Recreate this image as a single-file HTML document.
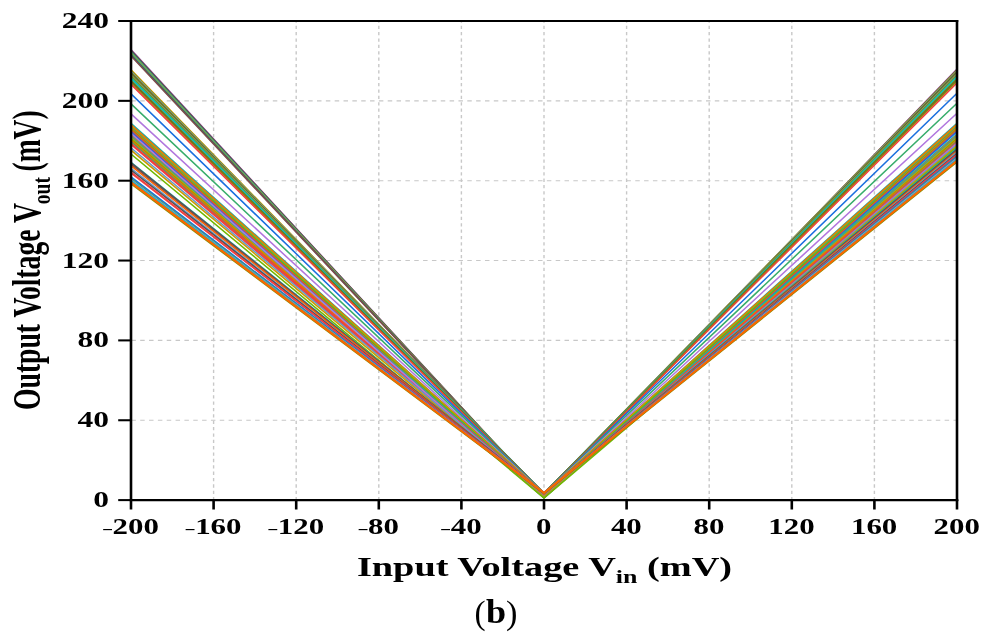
<!DOCTYPE html>
<html>
<head>
<meta charset="utf-8">
<title>Output Voltage vs Input Voltage (b)</title>
<style>
html,body{margin:0;padding:0;background:#ffffff;}
body{width:987px;height:639px;overflow:hidden;font-family:"Liberation Serif",serif;}
svg{display:block;position:absolute;left:0;top:0;}
.grid line{stroke:#c8c8c8;fill:none;}
.gv{stroke-width:1.4;stroke-dasharray:3.3 3.07;stroke-dashoffset:1.67;}
.gh{stroke-width:1.1;stroke-dasharray:4.5 4.34;stroke-dashoffset:-0.36;}
.curves polyline{fill:none;stroke-width:1.55;stroke-linejoin:miter;stroke-linecap:butt;}
.ticks line{stroke:#000;}
.tv{stroke-width:2.6;}
.th{stroke-width:2.05;}
text{font-family:"Liberation Serif",serif;fill:#000;}
.tk{font-weight:bold;font-size:22.4px;}
.hy{font-weight:normal;font-size:22.4px;}
.xt{font-weight:bold;font-size:26.6px;}
.yt{font-weight:bold;font-size:39.5px;}
.cap{font-size:34.4px;}
</style>
</head>
<body>
<div id="fig" style="position:absolute;left:0;top:0;width:987px;height:639px;will-change:transform;">
<svg width="987" height="639" viewBox="0 0 987 639">
<rect x="0" y="0" width="987" height="639" fill="#ffffff"/>
<g class="grid">
<line class="gv" x1="213.60" y1="21.00" x2="213.60" y2="500.10"/>
<line class="gv" x1="296.20" y1="21.00" x2="296.20" y2="500.10"/>
<line class="gv" x1="378.80" y1="21.00" x2="378.80" y2="500.10"/>
<line class="gv" x1="461.40" y1="21.00" x2="461.40" y2="500.10"/>
<line class="gv" x1="544.00" y1="21.00" x2="544.00" y2="500.10"/>
<line class="gv" x1="626.60" y1="21.00" x2="626.60" y2="500.10"/>
<line class="gv" x1="709.20" y1="21.00" x2="709.20" y2="500.10"/>
<line class="gv" x1="791.80" y1="21.00" x2="791.80" y2="500.10"/>
<line class="gv" x1="874.40" y1="21.00" x2="874.40" y2="500.10"/>
<line class="gh" x1="131.00" y1="420.25" x2="957.00" y2="420.25"/>
<line class="gh" x1="131.00" y1="340.40" x2="957.00" y2="340.40"/>
<line class="gh" x1="131.00" y1="260.55" x2="957.00" y2="260.55"/>
<line class="gh" x1="131.00" y1="180.70" x2="957.00" y2="180.70"/>
<line class="gh" x1="131.00" y1="100.85" x2="957.00" y2="100.85"/>
</g>
<clipPath id="pc"><rect x="131.00" y="21.00" width="826.00" height="479.10"/></clipPath>
<g class="curves" clip-path="url(#pc)">
<polyline points="131.00,69.84 544.00,494.11 957.00,70.04" stroke="#CC9900"/>
<polyline points="131.00,76.34 544.00,493.62 957.00,75.64" stroke="#CC9900"/>
<polyline points="131.00,49.64 544.00,496.92 957.00,68.94" stroke="#B177DE"/>
<polyline points="131.00,50.04 544.00,496.42 957.00,69.54" stroke="#7D4E4E"/>
<polyline points="131.00,50.84 544.00,496.73 957.00,70.44" stroke="#515151"/>
<polyline points="131.00,51.94 544.00,497.03 957.00,71.44" stroke="#1CB1A5"/>
<polyline points="131.00,53.04 544.00,496.54 957.00,72.44" stroke="#CC9900"/>
<polyline points="131.00,54.14 544.00,496.85 957.00,73.44" stroke="#1CB1A5"/>
<polyline points="131.00,55.04 544.00,496.35 957.00,74.04" stroke="#515151"/>
<polyline points="131.00,55.94 544.00,496.66 957.00,74.84" stroke="#7D4E4E"/>
<polyline points="131.00,70.74 544.00,493.97 957.00,70.24" stroke="#8E8E00"/>
<polyline points="131.00,71.64 544.00,493.47 957.00,71.04" stroke="#6699CC"/>
<polyline points="131.00,72.54 544.00,493.78 957.00,71.84" stroke="#8E8E00"/>
<polyline points="131.00,73.44 544.00,494.08 957.00,72.64" stroke="#515151"/>
<polyline points="131.00,74.34 544.00,493.59 957.00,73.44" stroke="#8E8E00"/>
<polyline points="131.00,75.24 544.00,493.90 957.00,74.24" stroke="#6699CC"/>
<polyline points="131.00,76.04 544.00,493.40 957.00,75.04" stroke="#8E8E00"/>
<polyline points="131.00,77.44 544.00,493.71 957.00,76.24" stroke="#1CB1A5"/>
<polyline points="131.00,78.44 544.00,494.01 957.00,77.04" stroke="#1CB1A5"/>
<polyline points="131.00,79.34 544.00,493.52 957.00,77.84" stroke="#00CBCC"/>
<polyline points="131.00,80.54 544.00,493.82 957.00,78.84" stroke="#8E8E00"/>
<polyline points="131.00,81.54 544.00,493.33 957.00,80.04" stroke="#515151"/>
<polyline points="131.00,82.44 544.00,493.63 957.00,81.04" stroke="#8E8E00"/>
<polyline points="131.00,84.34 544.00,493.94 957.00,82.94" stroke="#F14040"/>
<polyline points="131.00,93.84 544.00,493.51 957.00,93.24" stroke="#1A6FDF"/>
<polyline points="131.00,103.84 544.00,493.51 957.00,103.24" stroke="#37AD6B"/>
<polyline points="131.00,113.84 544.00,493.51 957.00,113.24" stroke="#B177DE"/>
<polyline points="131.00,123.44 544.00,493.51 957.00,123.24" stroke="#1CB1A5"/>
<polyline points="131.00,124.84 544.00,493.51 957.00,124.44" stroke="#FB6501"/>
<polyline points="131.00,126.04 544.00,493.51 957.00,125.64" stroke="#CC9900"/>
<polyline points="131.00,127.24 544.00,495.51 957.00,126.84" stroke="#37AD6B"/>
<polyline points="131.00,128.34 544.00,497.34 957.00,128.04" stroke="#FB6501"/>
<polyline points="131.00,129.34 544.00,494.38 957.00,129.24" stroke="#6FB802"/>
<polyline points="131.00,130.44 544.00,496.21 957.00,130.44" stroke="#F14040"/>
<polyline points="131.00,131.94 544.00,498.04 957.00,131.64" stroke="#1A6FDF"/>
<polyline points="131.00,134.44 544.00,495.08 957.00,134.04" stroke="#1CB1A5"/>
<polyline points="131.00,135.54 544.00,496.91 957.00,135.24" stroke="#FB6501"/>
<polyline points="131.00,136.64 544.00,493.95 957.00,136.44" stroke="#1CB1A5"/>
<polyline points="131.00,137.94 544.00,495.78 957.00,137.64" stroke="#CC9900"/>
<polyline points="131.00,139.14 544.00,497.61 957.00,138.84" stroke="#6FB802"/>
<polyline points="131.00,140.44 544.00,494.65 957.00,140.04" stroke="#FB6501"/>
<polyline points="131.00,141.84 544.00,496.48 957.00,141.24" stroke="#37AD6B"/>
<polyline points="131.00,143.44 544.00,493.52 957.00,142.44" stroke="#F14040"/>
<polyline points="131.00,144.54 544.00,495.35 957.00,143.44" stroke="#F14040"/>
<polyline points="131.00,133.34 544.00,497.18 957.00,143.44" stroke="#B177DE"/>
<polyline points="131.00,147.84 544.00,494.22 957.00,144.64" stroke="#6699CC"/>
<polyline points="131.00,150.14 544.00,496.05 957.00,145.84" stroke="#CC9900"/>
<polyline points="131.00,154.04 544.00,497.88 957.00,147.04" stroke="#6FB802"/>
<polyline points="131.00,162.34 544.00,493.58 957.00,148.24" stroke="#1CB1A5"/>
<polyline points="131.00,162.94 544.00,494.34 957.00,149.24" stroke="#515151"/>
<polyline points="131.00,164.24 544.00,493.11 957.00,150.24" stroke="#7D4E4E"/>
<polyline points="131.00,165.84 544.00,493.87 957.00,151.24" stroke="#FB6501"/>
<polyline points="131.00,168.24 544.00,494.63 957.00,152.44" stroke="#6699CC"/>
<polyline points="131.00,170.14 544.00,493.40 957.00,153.64" stroke="#515151"/>
<polyline points="131.00,172.04 544.00,494.16 957.00,154.64" stroke="#F14040"/>
<polyline points="131.00,173.04 544.00,492.93 957.00,155.44" stroke="#F14040"/>
<polyline points="131.00,176.94 544.00,493.03 957.00,156.44" stroke="#1A6FDF"/>
<polyline points="131.00,178.54 544.00,493.33 957.00,157.44" stroke="#37AD6B"/>
<polyline points="131.00,179.94 544.00,492.84 957.00,158.44" stroke="#B177DE"/>
<polyline points="131.00,180.54 544.00,493.14 957.00,159.24" stroke="#00CBCC"/>
<polyline points="131.00,183.84 544.00,493.45 957.00,162.04" stroke="#8E8E00"/>
<polyline points="131.00,181.94 544.00,492.61 957.00,160.24" stroke="#FB6501"/>
<polyline points="131.00,182.74 544.00,493.11 957.00,161.04" stroke="#FB6501"/>
</g>
<g class="ticks">
<line class="tv" x1="131.00" y1="500.10" x2="131.00" y2="509.50"/>
<line class="tv" x1="213.60" y1="500.10" x2="213.60" y2="509.50"/>
<line class="tv" x1="296.20" y1="500.10" x2="296.20" y2="509.50"/>
<line class="tv" x1="378.80" y1="500.10" x2="378.80" y2="509.50"/>
<line class="tv" x1="461.40" y1="500.10" x2="461.40" y2="509.50"/>
<line class="tv" x1="544.00" y1="500.10" x2="544.00" y2="509.50"/>
<line class="tv" x1="626.60" y1="500.10" x2="626.60" y2="509.50"/>
<line class="tv" x1="709.20" y1="500.10" x2="709.20" y2="509.50"/>
<line class="tv" x1="791.80" y1="500.10" x2="791.80" y2="509.50"/>
<line class="tv" x1="874.40" y1="500.10" x2="874.40" y2="509.50"/>
<line class="tv" x1="957.00" y1="500.10" x2="957.00" y2="509.50"/>
<line class="th" x1="118.20" y1="500.10" x2="131.00" y2="500.10"/>
<line class="th" x1="118.20" y1="420.25" x2="131.00" y2="420.25"/>
<line class="th" x1="118.20" y1="340.40" x2="131.00" y2="340.40"/>
<line class="th" x1="118.20" y1="260.55" x2="131.00" y2="260.55"/>
<line class="th" x1="118.20" y1="180.70" x2="131.00" y2="180.70"/>
<line class="th" x1="118.20" y1="100.85" x2="131.00" y2="100.85"/>
<line class="th" x1="118.20" y1="21.00" x2="131.00" y2="21.00"/>
<line class="th" x1="129.70" y1="21.00" x2="958.30" y2="21.00"/>
<line class="th" x1="129.70" y1="500.10" x2="958.30" y2="500.10"/>
<line class="tv" x1="131.00" y1="20.00" x2="131.00" y2="501.10"/>
<line class="tv" x1="957.00" y1="20.00" x2="957.00" y2="501.10"/>
</g>
<g class="labels">
<text class="hy" x="103.22" y="534.50" textLength="8.67" lengthAdjust="spacingAndGlyphs">–</text>
<text class="tk" x="112.58" y="534.30" textLength="46.35" lengthAdjust="spacingAndGlyphs">200</text>
<text class="hy" x="185.82" y="534.50" textLength="8.67" lengthAdjust="spacingAndGlyphs">–</text>
<text class="tk" x="195.17" y="534.30" textLength="46.35" lengthAdjust="spacingAndGlyphs">160</text>
<text class="hy" x="268.43" y="534.50" textLength="8.67" lengthAdjust="spacingAndGlyphs">–</text>
<text class="tk" x="277.77" y="534.30" textLength="46.35" lengthAdjust="spacingAndGlyphs">120</text>
<text class="hy" x="358.75" y="534.50" textLength="8.67" lengthAdjust="spacingAndGlyphs">–</text>
<text class="tk" x="368.10" y="534.30" textLength="30.90" lengthAdjust="spacingAndGlyphs">80</text>
<text class="hy" x="441.35" y="534.50" textLength="8.67" lengthAdjust="spacingAndGlyphs">–</text>
<text class="tk" x="450.70" y="534.30" textLength="30.90" lengthAdjust="spacingAndGlyphs">40</text>
<text class="tk" x="536.02" y="534.30" textLength="15.45" lengthAdjust="spacingAndGlyphs">0</text>
<text class="tk" x="610.90" y="534.30" textLength="30.90" lengthAdjust="spacingAndGlyphs">40</text>
<text class="tk" x="693.50" y="534.30" textLength="30.90" lengthAdjust="spacingAndGlyphs">80</text>
<text class="tk" x="768.38" y="534.30" textLength="46.35" lengthAdjust="spacingAndGlyphs">120</text>
<text class="tk" x="850.98" y="534.30" textLength="46.35" lengthAdjust="spacingAndGlyphs">160</text>
<text class="tk" x="933.58" y="534.30" textLength="46.35" lengthAdjust="spacingAndGlyphs">200</text>
<text class="tk" x="93.25" y="507.10" textLength="15.75" lengthAdjust="spacingAndGlyphs">0</text>
<text class="tk" x="77.50" y="427.25" textLength="31.50" lengthAdjust="spacingAndGlyphs">40</text>
<text class="tk" x="77.50" y="347.40" textLength="31.50" lengthAdjust="spacingAndGlyphs">80</text>
<text class="tk" x="61.75" y="267.55" textLength="47.25" lengthAdjust="spacingAndGlyphs">120</text>
<text class="tk" x="61.75" y="187.70" textLength="47.25" lengthAdjust="spacingAndGlyphs">160</text>
<text class="tk" x="61.75" y="107.85" textLength="47.25" lengthAdjust="spacingAndGlyphs">200</text>
<text class="tk" x="61.75" y="28.00" textLength="47.25" lengthAdjust="spacingAndGlyphs">240</text>
</g>
<text class="xt" x="356.9" y="575.9" textLength="375.2" lengthAdjust="spacingAndGlyphs">Input Voltage V<tspan font-size="18px" dy="6.6">in</tspan><tspan dy="-6.6"> (mV)</tspan></text>
<g transform="translate(40.2,410) rotate(-90)">
<text class="yt" x="0" y="0" textLength="206.9" lengthAdjust="spacingAndGlyphs">Output Voltage V</text>
<text class="yt" x="205.8" y="9.6" style="font-size:25px" textLength="27.1" lengthAdjust="spacingAndGlyphs">out</text>
<text class="yt" x="238.6" y="0" textLength="61.0" lengthAdjust="spacingAndGlyphs">(mV)</text>
</g>
<text class="cap" x="474.4" y="623.5" textLength="11.11" lengthAdjust="spacingAndGlyphs">(</text>
<text class="cap" x="485.9" y="623.0" font-weight="bold" textLength="20.09" lengthAdjust="spacingAndGlyphs">b</text>
<text class="cap" x="505.94" y="623.5" textLength="11.46" lengthAdjust="spacingAndGlyphs">)</text>
</svg>
</div>
</body>
</html>
